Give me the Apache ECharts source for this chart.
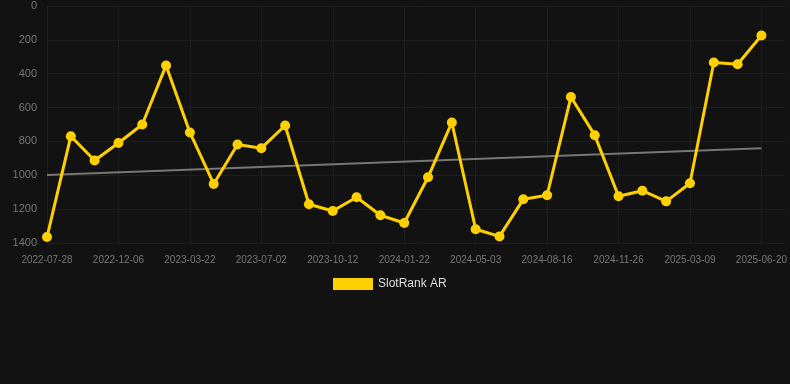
<!DOCTYPE html>
<html>
<head>
<meta charset="utf-8">
<script src="https://cdn.jsdelivr.net/npm/echarts@6/dist/echarts.min.js"></script>
<style>
html,body{margin:0;padding:0;background:#121212;}
#chart{width:790px;height:384px;}
</style>
</head>
<body>
<div id="chart"></div>
<script>
const categories = [
  '2022-07-28','2022-09-10','2022-10-24','2022-12-06','2023-01-10','2023-02-15',
  '2023-03-22','2023-04-25','2023-05-29','2023-07-02','2023-08-05','2023-09-08',
  '2023-10-12','2023-11-15','2023-12-19','2024-01-22','2024-02-25','2024-03-30',
  '2024-05-03','2024-06-06','2024-07-11','2024-08-16','2024-09-19','2024-10-23',
  '2024-11-26','2024-12-30','2025-02-03','2025-03-09','2025-04-12','2025-05-16',
  '2025-06-20'
];
const rankValues = [
  1365, 769, 913, 809, 700, 351,
  747, 1051, 818, 840, 706, 1171,
  1211, 1130, 1236, 1282, 1012, 688,
  1319, 1361, 1142, 1118, 538, 763,
  1124, 1091, 1154, 1047, 334, 344,
  174
];
const trendValues = [998, 840];
const yTicks = [0, 200, 400, 600, 800, 1000, 1200, 1400];

// one empty trailing slot so the grid runs on to the right edge
const axisCategories = categories.concat(['']);

const chart = echarts.init(document.getElementById('chart'));
chart.setOption({
  backgroundColor: '#121212',
  animation: false,
  grid: {left: 47, right: 4, top: 6, bottom: 141},
  legend: {
    data: ['SlotRank AR'],
    bottom: 94,
    left: 333,
    padding: 0,
    itemWidth: 40,
    itemHeight: 12,
    icon: 'rect',
    textStyle: {color: '#dddddd', fontSize: 12, fontFamily: 'Arial, Liberation Sans, sans-serif'}
  },
  xAxis: {
    type: 'category',
    data: axisCategories,
    boundaryGap: false,
    axisLine: {show: false},
    axisTick: {show: false},
    axisLabel: {
      interval: 2,
      color: '#777777',
      fontSize: 10,
      margin: 12,
      fontFamily: 'Arial, Liberation Sans, sans-serif'
    },
    splitLine: {show: true, interval: 2, lineStyle: {color: '#1e1e1e', width: 1}}
  },
  yAxis: {
    type: 'value',
    inverse: true,
    min: yTicks[0],
    max: yTicks[yTicks.length - 1],
    interval: 200,
    axisLine: {show: false},
    axisTick: {show: false},
    axisLabel: {
      color: '#777777', fontSize: 11, margin: 10,
      fontFamily: 'Arial, Liberation Sans, sans-serif',
      formatter: function (v) { return String(v); }
    },
    splitLine: {lineStyle: {color: '#1e1e1e', width: 1}}
  },
  series: [
    {
      name: 'Trend',
      type: 'line',
      data: [[0, trendValues[0]], [categories.length - 1, trendValues[1]]],
      symbol: 'none',
      lineStyle: {color: '#777777', width: 2},
      z: 1
    },
    {
      name: 'SlotRank AR',
      type: 'line',
      data: rankValues,
      symbol: 'circle',
      symbolSize: 10,
      itemStyle: {color: '#FFD000'},
      lineStyle: {color: '#FFD000', width: 3},
      z: 2
    }
  ]
});
</script>
</body>
</html>
